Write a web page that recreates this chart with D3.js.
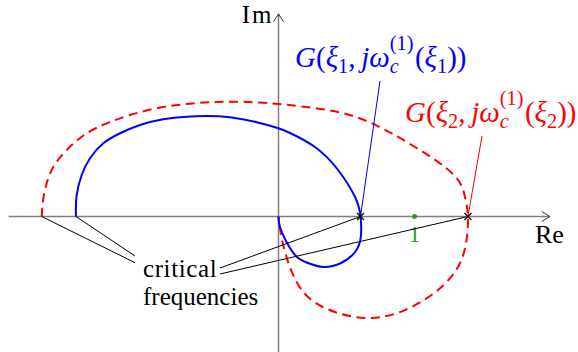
<!DOCTYPE html>
<html>
<head>
<meta charset="utf-8">
<script src="https://cdn.jsdelivr.net/npm/d3@7"></script>
<style>
  body { margin: 0; background: #fff; }
  svg { display: block; }
  text { font-family: "Liberation Serif", "DejaVu Serif", serif; }
</style>
</head>
<body>
<div id="chart"></div>
<script>
var width = 578,
height = 352;

// curve G(xi1, jw) : solid blue (Re, Im)
var blueRe = [-1.489, -1.485, -1.447, -1.386, -1.288, -1.165, -1.018, -0.847, -0.675, -0.528, -0.357, -0.160, -0.001, 0.085, 0.268, 0.438, 0.563, 0.603, 0.605, 0.563, 0.460, 0.327, 0.217, 0.136, 0.063, 0.011, 0];
var blueIm = [0, 0.150, 0.305, 0.428, 0.538, 0.612, 0.673, 0.715, 0.734, 0.739, 0.729, 0.693, 0.649, 0.614, 0.511, 0.342, 0.143, 0, -0.151, -0.261, -0.342, -0.371, -0.342, -0.298, -0.195, -0.077, 0];

// curve G(xi2, jw) : dashed red
var redRe = [-1.741, -1.729, -1.693, -1.631, -1.533, -1.410, -1.263, -1.092, -0.896, -0.700, -0.504, -0.307, -0.112, -0.001, 0.364, 0.680, 1.004, 1.290, 1.371, 1.393, 1.379, 1.320, 1.173, 0.930, 0.680, 0.438, 0.217, 0.092, 0.026, 0];
var redIm = [0, 0.134, 0.281, 0.403, 0.513, 0.612, 0.685, 0.746, 0.796, 0.825, 0.840, 0.844, 0.837, 0.827, 0.783, 0.688, 0.511, 0.305, 0.143, 0, -0.195, -0.371, -0.540, -0.688, -0.746, -0.710, -0.592, -0.393, -0.173, 0];

// crossings of the real axis at w_c^(1)
var crossRe = [0.603, 1.393];
var startRe = [-1.741, -1.489];
var unitRe = 1;

var svg = d3.select("#chart")
.append("svg")
.attr("width", width)
.attr("height", height);

var x = d3.scaleLinear()
.domain([-2, 2])
.range([6.5, 550.5]);

var y = d3.scaleLinear()
.domain([-1, 1.5])
.range([352.5, 12.5]);

var line = d3.line()
.x(function(d) { return x(d[0]); })
.y(function(d) { return y(d[1]); })
.curve(d3.curveNatural);

//Axes
var axisColour = "#7f7f7f";
svg.append("line")
.attr("x1", x(-1.985)).attr("y1", y(0))
.attr("x2", x(1.995)).attr("y2", y(0))
.attr("stroke", axisColour)
.attr("stroke-width", 1.5);
svg.append("line")
.attr("x1", x(0)).attr("y1", y(-1))
.attr("x2", x(0)).attr("y2", y(1.49))
.attr("stroke", axisColour)
.attr("stroke-width", 1.5);

// open arrow heads
svg.append("path")
.attr("d", "M" + (x(1.995) - 8) + "," + (y(0) - 5) + " L" + x(1.995) + "," + y(0) + " L" + (x(1.995) - 8) + "," + (y(0) + 5))
.attr("fill", "none")
.attr("stroke", "#333")
.attr("stroke-width", 1);
svg.append("path")
.attr("d", "M" + (x(0) - 5) + "," + (y(1.49) + 8) + " L" + x(0) + "," + y(1.49) + " L" + (x(0) + 5) + "," + (y(1.49) + 8))
.attr("fill", "none")
.attr("stroke", "#333")
.attr("stroke-width", 1);

svg.append("text")
.attr("x", x(0) - 5)
.attr("y", 23)
.attr("text-anchor", "end")
.style("font-size", "25px")
.style("letter-spacing", "2px")
.text("Im");

svg.append("text")
.attr("x", 535)
.attr("y", 243)
.style("font-size", "26px")
.text("Re");

// curves
svg.append("path")
.attr("d", line(d3.zip(redRe, redIm)))
.attr("fill", "none")
.attr("stroke", "#ff0000")
.attr("stroke-width", 2)
.attr("stroke-dasharray", "9,5.5");

svg.append("path")
.attr("d", line(d3.zip(blueRe, blueIm)))
.attr("fill", "none")
.attr("stroke", "#0000ff")
.attr("stroke-width", 2);

// point 1
svg.append("circle")
.attr("cx", x(unitRe))
.attr("cy", y(0))
.attr("r", 2.5)
.style("fill", "#2f9a2f");
svg.append("text")
.attr("x", x(unitRe))
.attr("y", 242)
.attr("text-anchor", "middle")
.style("font-size", "23px")
.style("fill", "#2f9a2f")
.text("1");

// leader lines to the labels
svg.append("line")
.attr("x1", x(crossRe[0])).attr("y1", y(0))
.attr("x2", 380).attr("y2", 81)
.attr("stroke", "#0000ff")
.attr("stroke-width", 1);
svg.append("line")
.attr("x1", x(crossRe[1])).attr("y1", y(0))
.attr("x2", 482).attr("y2", 136)
.attr("stroke", "#ff0000")
.attr("stroke-width", 1);

// critical frequencies pointers
var pointers = [
  [x(startRe[0]), y(0), 135, 262.7],
  [x(startRe[1]), y(0), 135, 256],
  [x(crossRe[0]), y(0), 220, 268],
  [x(crossRe[1]), y(0), 220, 274]
];
svg.selectAll(".pointer")
.data(pointers)
.enter()
.append("line")
.attr("class", "pointer")
.attr("x1", function(d) { return d[0]; })
.attr("y1", function(d) { return d[1]; })
.attr("x2", function(d) { return d[2]; })
.attr("y2", function(d) { return d[3]; })
.attr("stroke", "#000")
.attr("stroke-width", 1);

// cross markers
svg.selectAll(".cross")
.data(crossRe)
.enter()
.append("path")
.attr("class", "cross")
.attr("d", function(d) {
  var cx = x(d), cy = y(0), s = 3.5;
  return "M" + (cx - s) + "," + (cy - s) + " L" + (cx + s) + "," + (cy + s) +
    " M" + (cx - s) + "," + (cy + s) + " L" + (cx + s) + "," + (cy - s);
})
.attr("stroke", "#000")
.attr("stroke-width", 1.2);

svg.append("text")
.attr("x", 143)
.attr("y", 277)
.style("font-size", "25px")
.style("letter-spacing", "0.6px")
.text("critical");
svg.append("text")
.attr("x", 143)
.attr("y", 305)
.style("font-size", "25px")
.text("frequencies");

// math labels, laid out piece by piece
function mathLabel(x0, y0, sub, colour, size) {
  var parts = [
    {t: "G", it: true},
    {t: "(", it: false},
    {t: "\u03BE", it: true},
    {t: sub, it: false, lvl: -1},
    {t: ",", it: false},
    {t: "j", it: true, dx: 0.2},
    {t: "\u03C9", it: true},
    {t: "(1)", it: false, lvl: 1, stack: true},
    {t: "c", it: true, lvl: -1},
    {t: "(", it: false, dx: 0.05},
    {t: "\u03BE", it: true},
    {t: sub, it: false, lvl: -1},
    {t: ")", it: false},
    {t: ")", it: false}
  ];
  var g = svg.append("g").style("fill", colour);
  var cx = x0, stackW = 0;
  parts.forEach(function(p) {
    var fs = p.lvl ? size * 0.7 : size;
    var dy = p.lvl === 1 ? -size * 0.58 : (p.lvl === -1 ? size * 0.2 : 0);
    cx += (p.dx || 0) * size;
    var t = g.append("text")
    .attr("x", cx)
    .attr("y", y0 + dy)
    .style("font-size", fs + "px")
    .style("font-style", p.it ? "italic" : "normal")
    .text(p.t);
    var w = t.node().getComputedTextLength();
    if (p.stack) {
      stackW = w;
    } else {
      cx += Math.max(w, stackW);
      stackW = 0;
    }
  });
  return g;
}

mathLabel(295, 67, "1", "#0000ff", 29);
mathLabel(405, 122, "2", "#ff0000", 29);
</script>
</body>
</html>
